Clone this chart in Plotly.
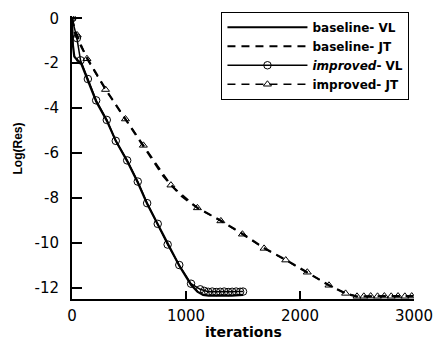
import plotly.graph_objects as go

# ---- data ----
base_vl_x = [0, 8, 20, 45, 80, 140, 212, 305, 384, 484, 577, 659, 752, 839, 941, 1044, 1100, 1150, 1200, 1300, 1400, 1500]
base_vl_y = [0, -1.2, -1.7, -1.85, -2.0, -2.75, -3.7, -4.55, -5.45, -6.35, -7.3, -8.25, -9.15, -10.05, -11.0, -11.85, -12.15, -12.3, -12.33, -12.32, -12.33, -12.3]

imp_vl_x = [0, 43, 75, 139, 212, 305, 384, 484, 577, 659, 752, 839, 941, 1044, 1125, 1160, 1195, 1230, 1265, 1300, 1335, 1370, 1405, 1440, 1475, 1500]
imp_vl_y = [0, -0.88, -1.87, -2.7, -3.65, -4.52, -5.45, -6.32, -7.26, -8.22, -9.14, -10.06, -10.97, -11.8, -12.05, -12.12, -12.16, -12.15, -12.17, -12.16, -12.15, -12.17, -12.16, -12.15, -12.16, -12.15]

base_jt_x = [0, 15, 40, 80, 130, 200, 300, 470, 615, 700, 800, 870, 960, 1100, 1306, 1500, 1690, 1880, 2064, 2254, 2400, 2500, 2600, 2700, 2800, 2900, 3000]
base_jt_y = [0, -0.5, -0.85, -1.25, -1.75, -2.35, -3.2, -4.5, -5.6, -6.2, -7.0, -7.42, -7.9, -8.43, -9.0, -9.6, -10.23, -10.75, -11.29, -11.87, -12.23, -12.38, -12.36, -12.35, -12.37, -12.36, -12.35]

imp_jt_x = [0, 46, 131, 294, 469, 626, 868, 1100, 1306, 1495, 1685, 1875, 2064, 2254, 2400, 2500, 2560, 2620, 2680, 2740, 2800, 2860, 2920, 2980]
imp_jt_y = [0, -0.75, -1.8, -3.17, -4.48, -5.65, -7.42, -8.43, -9.01, -9.6, -10.23, -10.75, -11.29, -11.87, -12.23, -12.36, -12.36, -12.35, -12.36, -12.35, -12.36, -12.35, -12.36, -12.35]

y_tick_vals = [0, -2, -4, -6, -8, -10, -12]
y_tick_text = ["0", "-2", "-4", "-6", "-8", "-10", "-12"]
x_tick_vals = [0, 1000, 2000, 3000]
x_tick_text = ["0", "1000", "2000", "3000"]

ARIAL = "Liberation Sans, Arial, sans-serif"
WIDE = "DejaVu Sans, sans-serif"

fig = go.Figure()
fig.add_trace(go.Scatter(x=base_vl_x, y=base_vl_y, mode="lines",
                         name="<b>baseline- VL</b>",
                         line=dict(color="black", width=2.2)))
fig.add_trace(go.Scatter(x=base_jt_x, y=base_jt_y, mode="lines",
                         name="<b>baseline- JT</b>",
                         line=dict(color="black", width=2.2, dash="8px,6px")))
fig.add_trace(go.Scatter(x=imp_vl_x, y=imp_vl_y, mode="lines+markers",
                         name="<b><i>improved</i>- VL</b>",
                         line=dict(color="black", width=1.5),
                         marker=dict(symbol="circle-open", size=7.5, color="black",
                                     line=dict(width=1, color="black"))))
fig.add_trace(go.Scatter(x=imp_jt_x, y=imp_jt_y, mode="lines+markers",
                         name="<b>improved- JT</b>",
                         line=dict(color="black", width=1.5, dash="8px,6px"),
                         marker=dict(symbol="triangle-up-open", size=7, color="black",
                                     line=dict(width=1, color="black"))))

fig.update_layout(
    width=443, height=345,
    margin=dict(l=72, r=28, t=10, b=46),
    paper_bgcolor="white", plot_bgcolor="white",
    font=dict(family=ARIAL, size=13, color="black"),
    showlegend=True,
    legend=dict(x=0.437, y=1.015, xanchor="left", yanchor="top",
                bordercolor="black", borderwidth=1, bgcolor="white",
                font=dict(family=WIDE, size=12, color="black"),
                itemwidth=80, tracegroupgap=0),
    annotations=[
        dict(text="<b>iterations</b>", xref="paper", yref="paper", x=0.5, y=-0.118,
             xanchor="center", yanchor="middle", showarrow=False,
             font=dict(family=WIDE, size=14)),
        dict(text="<b>Log(Res)</b>", xref="paper", yref="paper", x=-0.157, y=0.533,
             xanchor="center", yanchor="middle", showarrow=False, textangle=-90,
             font=dict(family=ARIAL, size=12)),
    ],
)
fig.update_xaxes(range=[0, 3000], showline=True, linecolor="black", linewidth=2,
                 ticks="inside", ticklen=8, tickwidth=2, tickcolor="black",
                 tickmode="array", tickvals=x_tick_vals, ticktext=x_tick_text,
                 showgrid=False, zeroline=False, ticklabelstandoff=2,
                 tickfont=dict(family=WIDE, size=15))
fig.update_yaxes(range=[-12.48, 0.1], showline=True, linecolor="black", linewidth=2,
                 ticks="inside", ticklen=10, tickwidth=2, tickcolor="black",
                 tickmode="array", tickvals=y_tick_vals, ticktext=y_tick_text,
                 showgrid=False, zeroline=False, ticklabelstandoff=8,
                 tickfont=dict(family=WIDE, size=15))

fig.write_html("out.html")
